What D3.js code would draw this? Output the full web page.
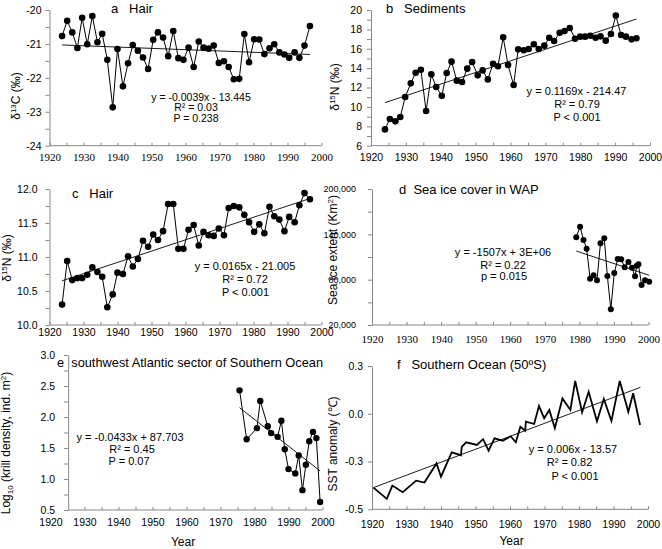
<!DOCTYPE html>
<html>
<head>
<meta charset="utf-8">
<script src="https://cdn.jsdelivr.net/npm/d3@7"></script>
<style>
body { margin: 0; background: #fff; }
svg { font-family: "Liberation Sans", Arial, sans-serif; }
</style>
</head>
<body>
<svg id="chart" width="662" height="549"></svg>
<script>
// ---- data ----
var hairYears = [1923.7,1925.2,1926.7,1928.2,1929.6,1931.1,1932.6,1934.1,1935.5,1937.0,1938.6,1940.0,1941.6,1943.1,1944.5,1946.0,1947.5,1949.0,1950.5,1951.9,1953.4,1954.9,1956.4,1957.9,1959.4,1960.9,1962.4,1963.9,1965.3,1966.8,1968.3,1969.8,1971.3,1972.7,1974.2,1975.8,1977.3,1978.7,1980.2,1981.7,1983.2,1984.7,1986.1,1987.6,1989.1,1990.5,1992.1,1993.5,1995.0,1996.6];
var hairC13 = [-20.77,-20.32,-20.66,-21.12,-20.23,-21.01,-20.18,-20.95,-20.70,-21.47,-22.87,-21.15,-22.25,-21.57,-21.03,-21.20,-21.40,-21.74,-20.88,-20.66,-20.81,-21.36,-20.62,-21.42,-21.47,-21.11,-21.68,-20.93,-21.11,-21.14,-21.05,-21.56,-21.51,-21.68,-22.04,-22.03,-20.71,-21.54,-20.86,-20.87,-21.30,-21.13,-21.01,-21.25,-21.31,-21.41,-21.25,-21.41,-21.05,-20.47];
var hairN15 = [10.30,10.94,10.66,10.69,10.69,10.74,10.85,10.78,10.71,10.26,10.45,10.77,10.75,11.01,10.86,10.97,11.24,11.15,11.33,11.25,11.38,11.78,11.78,11.12,11.12,11.40,11.47,11.17,11.37,11.32,11.31,11.42,11.32,11.72,11.75,11.73,11.62,11.51,11.37,11.48,11.35,11.74,11.60,11.55,11.38,11.59,11.51,11.76,11.94,11.85];

var sedYears = [1924.0,1925.4,1927.0,1928.4,1929.8,1931.4,1932.8,1934.3,1935.8,1937.3,1938.7,1940.3,1941.7,1943.1,1944.6,1946.1,1947.6,1949.0,1950.6,1952.0,1953.5,1955.0,1956.4,1957.9,1959.3,1960.9,1962.2,1963.8,1965.2,1966.7,1968.1,1969.7,1971.1,1972.5,1974.1,1975.5,1977.0,1978.5,1980.0,1981.4,1982.9,1984.4,1985.8,1987.3,1988.8,1990.2,1991.7,1993.1,1994.7,1996.1];
var sedN15 = [7.68,8.75,8.51,8.96,11.02,12.43,13.53,13.84,9.58,13.36,12.05,11.16,13.50,14.67,12.71,12.57,13.95,14.63,13.26,13.77,12.84,14.46,14.19,17.18,14.32,12.26,15.94,15.84,15.98,16.46,15.98,16.32,17.14,16.80,17.66,17.83,18.14,17.04,17.25,17.25,17.35,17.14,17.28,16.84,17.52,19.42,17.42,17.25,16.97,17.08];

var iceYears = [1979.1,1980.2,1981.2,1982.1,1983.1,1984.1,1985.1,1986.1,1987.2,1988.1,1989.1,1990.1,1991.1,1992.1,1993.1,1994.2,1995.2,1996.1,1996.6,1997.1,1998.0,1999.0,2000.2];
var iceExtent = [136100,150100,132500,121000,81300,85800,79100,128100,134700,84900,40800,88800,107400,107000,96400,103400,95900,84400,98300,100300,72800,79100,77100];

var krillYears = [1975.6,1977.7,1980.7,1981.7,1983.9,1984.9,1986.8,1987.9,1988.9,1990.0,1992.0,1993.0,1994.1,1995.1,1996.1,1997.2,1998.2,1999.3];
var krillLog = [2.43,1.64,1.82,2.26,1.85,1.74,1.68,1.94,1.48,1.16,1.09,1.38,0.82,1.23,1.61,1.76,1.66,0.63];

var sstYears = [1920.4,1924.3,1925.9,1928.9,1932.8,1935.2,1938.7,1940.0,1943.1,1945.8,1946.0,1947.3,1950.4,1952.2,1953.8,1955.5,1957.9,1960.2,1961.7,1963.0,1964.4,1964.6,1967.0,1968.4,1969.9,1971.4,1973.0,1975.2,1977.5,1978.9,1980.9,1982.8,1985.2,1987.2,1989.4,1991.8,1994.3,1995.7,1997.7];
var sstAnom = [-0.413,-0.479,-0.401,-0.440,-0.372,-0.383,-0.271,-0.349,-0.206,-0.223,-0.174,-0.147,-0.163,-0.129,-0.196,-0.124,-0.138,-0.112,-0.147,-0.056,-0.079,-0.026,-0.040,0.066,-0.006,0.042,-0.065,0.110,0.042,0.212,0.029,0.149,-0.024,0.107,-0.022,0.212,0.032,0.140,-0.046];

// linear trend end points [year, value]
var trendA = [[1923.7,-21.03],[1996.6,-21.31]];
var trendB = [[1924.0,10.44],[1996.1,19.07]];
var trendC = [[1923.7,10.65],[1996.6,11.86]];
var trendD = [[1979.1,117900],[2000.2,85800]];
var trendE = [[1975.6,2.15],[1999.3,1.13]];
var trendF = [[1920.4,-0.413],[1997.8,0.175]];

// tick values
var yearTicks = d3.range(1920, 2001, 5);
var ticksA = d3.range(-24, -19.99, 0.5);
var ticksB = d3.range(6, 20.01, 1);
var ticksC = d3.range(10, 12.001, 0.25);
var ticksD = d3.range(20000, 200001, 30000);
var ticksE = d3.range(0.5, 3.001, 0.25);
var ticksF = [-0.54, -0.26, 0.02, 0.30];

var svg = d3.select("#chart");
var axisCol = "#868686";

function half(d) { return Math.abs(d * 2 - Math.round(d * 2)) < 1e-6; }

function drawPanel(p) {
  var x = d3.scaleLinear().domain([1920, 2000]).range(p.xr);
  var y = d3.scaleLinear().domain(p.yd).range(p.yr);
  var x0 = x(p.yAt || 1920);
  var g = svg.append("g");

  // y axis
  var ya = g.append("g")
    .attr("transform", "translate(" + x0 + ",0)")
    .call(d3.axisLeft(y).tickValues(p.yticks).tickSize(4).tickSizeOuter(0).tickPadding(p.ypad).tickFormat(p.yfmt));
  ya.select(".domain").attr("stroke", axisCol);
  ya.selectAll(".tick line").attr("stroke", axisCol);
  ya.selectAll("text").attr("fill", "#000").style("font-size", p.ytSize || "10.5px");

  // x axis, ticks point up into the plot
  var xa = g.append("g")
    .attr("transform", "translate(0," + p.yr[0] + ")")
    .call(d3.axisBottom(x).tickValues(yearTicks).tickSize(-3).tickSizeOuter(0).tickPadding(p.xpad)
      .tickFormat(function(d) { return d % 10 === 0 ? d : ""; }));
  xa.select(".domain").remove();
  xa.selectAll(".tick line").attr("stroke", axisCol)
    .filter(function(d) { return x(d) < x0 - 0.5; }).remove();
  xa.selectAll("text").attr("fill", "#000")
    .style("font-size", p.serif ? "11px" : "10.5px")
    .style("font-family", p.serif ? "'Liberation Serif', 'Times New Roman', serif" : null);
  g.append("line")
    .attr("x1", x0).attr("x2", p.xr[1])
    .attr("y1", p.yr[0]).attr("y2", p.yr[0])
    .attr("stroke", axisCol);

  var line = d3.line().x(function(d) { return x(d[0]); }).y(function(d) { return y(d[1]); });
  var pts = d3.zip(p.xs, p.ys);

  g.append("path").datum(pts)
    .attr("d", line)
    .attr("fill", "none")
    .attr("stroke", "#000")
    .attr("stroke-width", p.lw || 1)
    .attr("stroke-linejoin", "miter");

  if (p.r) {
    g.selectAll("circle").data(pts).enter().append("circle")
      .attr("cx", function(d) { return x(d[0]); })
      .attr("cy", function(d) { return y(d[1]); })
      .attr("r", p.r)
      .attr("fill", "#000");
  }

  g.append("path").datum(p.trend)
    .attr("d", line)
    .attr("fill", "none")
    .attr("stroke", "#000")
    .attr("stroke-width", 0.9);

  // panel title
  g.append("text")
    .attr("x", p.title[1]).attr("y", p.title[2])
    .style("font-size", p.titleSize || "13px")
    .style("white-space", "pre")
    .text(p.title[0]);

  // regression text
  p.eq.forEach(function(e) {
    g.append("text")
      .attr("x", e[1]).attr("y", e[2])
      .attr("text-anchor", "middle")
      .style("font-size", p.eqSize || "11px")
      .text(e[0]);
  });

  // rotated y label with super/subscripts
  var lab = g.append("text")
    .attr("transform", "translate(" + p.ylab[0] + "," + p.ylab[1] + ") rotate(-90)")
    .attr("text-anchor", "middle")
    .attr("dy", "0.35em")
    .style("font-size", "12px");
  var shift = 0;
  p.ylab[2].forEach(function(s) {
    var t = lab.append("tspan").text(s[0]);
    var want = s[1] === "sup" ? -4 : s[1] === "sub" ? 3 : 0;
    t.attr("dy", want - shift);
    if (s[1]) t.style("font-size", "8px");
    shift = want;
  });

  if (p.xlab) {
    g.append("text")
      .attr("x", p.xlab[0]).attr("y", p.xlab[1])
      .attr("text-anchor", "middle")
      .style("font-size", "12px")
      .text("Year");
  }
}

drawPanel({
  xs: hairYears, ys: hairC13, trend: trendA, r: 3.3,
  xr: [49.5, 321.5], yd: [-24, -20], yr: [145.7, 10],
  yticks: ticksA, yfmt: function(d) { return Number.isInteger(d) ? String(d) : ""; },
  ypad: 4, xpad: 8, serif: true,
  title: ["a   Hair", 111, 12.5],
  eq: [["y = -0.0039x - 13.445", 201, 100.5], ["R\u00b2 = 0.03", 196, 111], ["P = 0.238", 196, 121.5]],
  eqSize: "10.5px",
  ylab: [20, 96, [["\u03b4", ""], ["13", "sup"], ["C (\u2030)", ""]]]
});

drawPanel({
  xs: sedYears, ys: sedN15, trend: trendB, r: 3.3,
  xr: [371, 650], yd: [6, 20], yr: [145.7, 10],
  yticks: ticksB, yfmt: function(d) { return d % 2 === 0 ? String(d) : ""; },
  ypad: 5, xpad: 7.5,
  title: ["b   Sediments", 386, 12.5],
  eq: [["y = 0.1169x - 214.47", 576.5, 94.5], ["R\u00b2 = 0.79", 577, 107.5], ["P < 0.001", 577, 120.5]],
  ylab: [339, 87, [["\u03b4", ""], ["15", "sup"], ["N (\u2030)", ""]]]
});

drawPanel({
  xs: hairYears, ys: hairN15, trend: trendC, r: 3.3,
  xr: [49.5, 321.5], yd: [10, 12], yr: [325, 189],
  yticks: ticksC, yfmt: function(d) { return half(d) ? d.toFixed(1) : ""; },
  ypad: 8, xpad: 4,
  title: ["c   Hair", 72, 198],
  eq: [["y = 0.0165x - 21.005", 245, 269.5], ["R\u00b2 = 0.72", 245, 282.5], ["P < 0.001", 245.5, 295.5]],
  ylab: [11, 258, [["\u03b4", ""], ["15", "sup"], ["N (\u2030)", ""]]]
});

drawPanel({
  xs: iceYears, ys: iceExtent, trend: trendD, r: 3,
  xr: [372, 648.5], yd: [20000, 200000], yr: [325, 189],
  yticks: ticksD, yfmt: function(d) { return (d - 20000) % 60000 === 0 ? d3.format(",")(d) : ""; },
  ypad: 12, xpad: 10, serif: true, ytSize: "9px",
  title: ["d  Sea ice cover in WAP", 399, 194],
  eq: [["y = -1507x + 3E+06", 503, 256], ["R\u00b2 = 0.22", 503, 268.5], ["p = 0.015", 504, 280]],
  ylab: [337, 250, [["Sea ice extent (Km", ""], ["2", "sup"], [")", ""]]]
});

drawPanel({
  xs: krillYears, ys: krillLog, trend: trendE, r: 3.2,
  xr: [50.5, 322.5], yd: [0.5, 3.0], yr: [510, 355], yAt: 1925.2,
  yticks: ticksE, yfmt: function(d) { return half(d) ? d.toFixed(1) : ""; },
  ypad: 9, xpad: 9,
  title: ["e  southwest Atlantic sector of Southern Ocean", 57, 367], titleSize: "12.8px",
  eq: [["y = -0.0433x + 87.703", 130, 441], ["R\u00b2 = 0.45", 132, 453], ["P = 0.07", 129, 465]],
  ylab: [10, 443, [["Log", ""], ["10", "sub"], [" (krill density, ind. m", ""], ["2", "sup"], [")", ""]]],
  xlab: [183, 546]
});

drawPanel({
  xs: sstYears, ys: sstAnom, trend: trendF, lw: 1.8,
  xr: [372, 648], yd: [-0.54, 0.30], yr: [509.3, 366],
  yticks: ticksF, yfmt: function(d) { return d.toFixed(1); },
  ypad: 5, xpad: 11,
  title: ["f   Southern Ocean (50\u00baS)", 397, 369],
  eq: [["y = 0.006x - 13.57", 573, 452.5], ["R\u00b2 = 0.82", 569.5, 466], ["P < 0.001", 575, 480]],
  ylab: [337, 444, [["SST anomaly (\u2103)", ""]]],
  xlab: [511.5, 545]
});
</script>
</body>
</html>
